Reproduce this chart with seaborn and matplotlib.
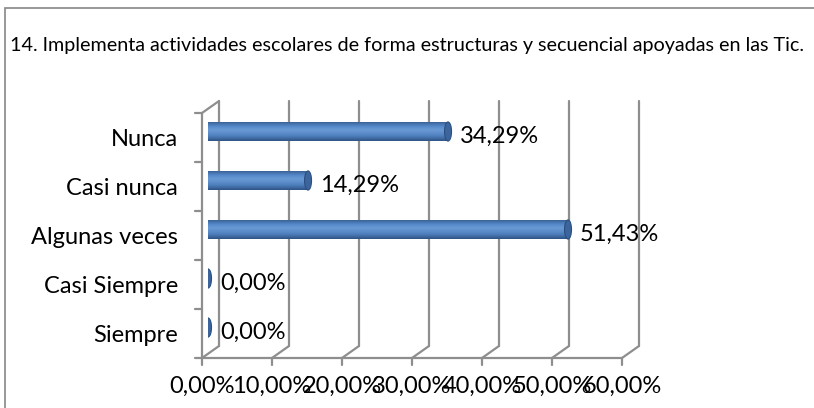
import numpy as np
import pandas as pd
import matplotlib
matplotlib.use("Agg")
import matplotlib.pyplot as plt
import matplotlib.transforms as mtransforms
from matplotlib.patches import Ellipse, Rectangle
from matplotlib.colors import LinearSegmentedColormap
import seaborn as sns

categories = ["Nunca", "Casi nunca", "Algunas veces", "Casi Siempre", "Siempre"]
values = [34.29, 14.29, 51.43, 0.0, 0.0]
value_labels = ["34,29%", "14,29%", "51,43%", "0,00%", "0,00%"]
xticks = [0, 10, 20, 30, 40, 50, 60]
xtick_labels = ["0,00%", "10,00%", "20,00%", "30,00%", "40,00%", "50,00%", "60,00%"]
title = "14. Implementa actividades escolares de forma estructuras y secuencial apoyadas en las Tic."

sns.set_theme(style="white")
plt.rcParams["font.family"] = ["Lato", "DejaVu Sans"]

W, H = 814, 408
fig = plt.figure(figsize=(W / 100, H / 100), dpi=100)
ax = fig.add_axes([208 / W, 1 - 352 / H, 420 / W, 245 / H])

df = pd.DataFrame({"cat": categories, "val": values})
sns.barplot(data=df, y="cat", x="val", orient="h", color="#4F81BD", width=0.39,
            ax=ax, edgecolor="none", saturation=1)
ax.set_xlim(0, 60)
ax.set_ylim(4.5, -0.5)
ax.axis("off")

front = mtransforms.offset_copy(ax.transData, fig=fig, x=-6, y=-6, units="dots")
back = mtransforms.offset_copy(ax.transData, fig=fig, x=11, y=6, units="dots")
grid_c = "#8E8E8E"
lw = 1.6

cmap = LinearSegmentedColormap.from_list(
    "cyl", [(0, "#34598C"), (0.25, "#5488C8"), (0.45, "#6A9AD6"), (0.75, "#4F80BE"), (1, "#2F5385")])
for bar in ax.patches:
    x0, y0 = bar.get_x(), bar.get_y()
    w, h = bar.get_width(), bar.get_height()
    if w > 0:
        im = ax.imshow(np.linspace(0, 1, 64).reshape(-1, 1), cmap=cmap, aspect="auto",
                       extent=(x0, x0 + w, y0 + h, y0), zorder=3, interpolation="bilinear")
        im.set_clip_path(bar)
        bar.set_zorder(3)
        ax.add_patch(Ellipse((x0, y0 + h / 2), 0.9, h, facecolor="#4F80BE", edgecolor="none", zorder=2.9))
    ax.add_patch(Ellipse((x0 + w, y0 + h / 2), 1.0, h, facecolor="#3C659E",
                         edgecolor="#2B4F7E", lw=0.8, zorder=4))
ax.set_xlim(0, 60)
ax.set_ylim(4.5, -0.5)

ybot, ytop = 4.5, -0.5
for t in xticks:
    ax.plot([t, t], [ybot, ytop], color=grid_c, lw=lw, transform=back, zorder=1, clip_on=False)
ax.plot([0, 60], [ybot, ybot], color=grid_c, lw=lw, transform=front, zorder=1, clip_on=False)
for t in xticks:
    p0 = front.transform((t, ybot))
    p1 = back.transform((t, ybot))
    ax.plot([p0[0], p1[0]], [p0[1], p1[1]], color=grid_c, lw=lw, transform=None, zorder=1, clip_on=False)
    ax.plot([p0[0], p0[0]], [p0[1], p0[1] - 7], color=grid_c, lw=lw, transform=None, zorder=1, clip_on=False)
ax.plot([0, 0], [ybot, ytop], color=grid_c, lw=lw, transform=front, zorder=1, clip_on=False)
p0 = front.transform((0, ytop))
p1 = back.transform((0, ytop))
ax.plot([p0[0], p1[0]], [p0[1], p1[1]], color=grid_c, lw=lw, transform=None, zorder=1, clip_on=False)
for e in np.arange(-0.5, 5.0, 1.0):
    q = front.transform((0, e))
    ax.plot([q[0] - 7, q[0]], [q[1], q[1]], color=grid_c, lw=lw, transform=None, zorder=1, clip_on=False)

cat_tr = mtransforms.offset_copy(ax.transData, fig=fig, x=-30, y=-8, units="dots")
for i, c in enumerate(categories):
    ax.text(0, i, c, transform=cat_tr, ha="right", va="center", fontsize=17, color="#000000")

val_tr = mtransforms.offset_copy(ax.transData, fig=fig, x=12, y=-5, units="dots")
for i, (v, lab) in enumerate(zip(values, value_labels)):
    ax.text(v, i, lab, transform=val_tr, ha="left", va="center", fontsize=17, color="#000000")

xt_tr = mtransforms.offset_copy(ax.transData, fig=fig, x=-6, y=-34, units="dots")
for t, lab in zip(xticks, xtick_labels):
    ax.text(t, ybot, lab, transform=xt_tr, ha="center", va="center", fontsize=17, color="#000000")

fig.text(10 / W, 1 - 45 / H, title, ha="left", va="center", fontsize=14.2, color="#000000")

fig.add_artist(Rectangle((5 / W, -0.1), 1.2, 1 - 8 / H + 0.1, transform=fig.transFigure,
                         fill=False, edgecolor="#868686", lw=1.2))

fig.savefig("out.png", dpi=100)
